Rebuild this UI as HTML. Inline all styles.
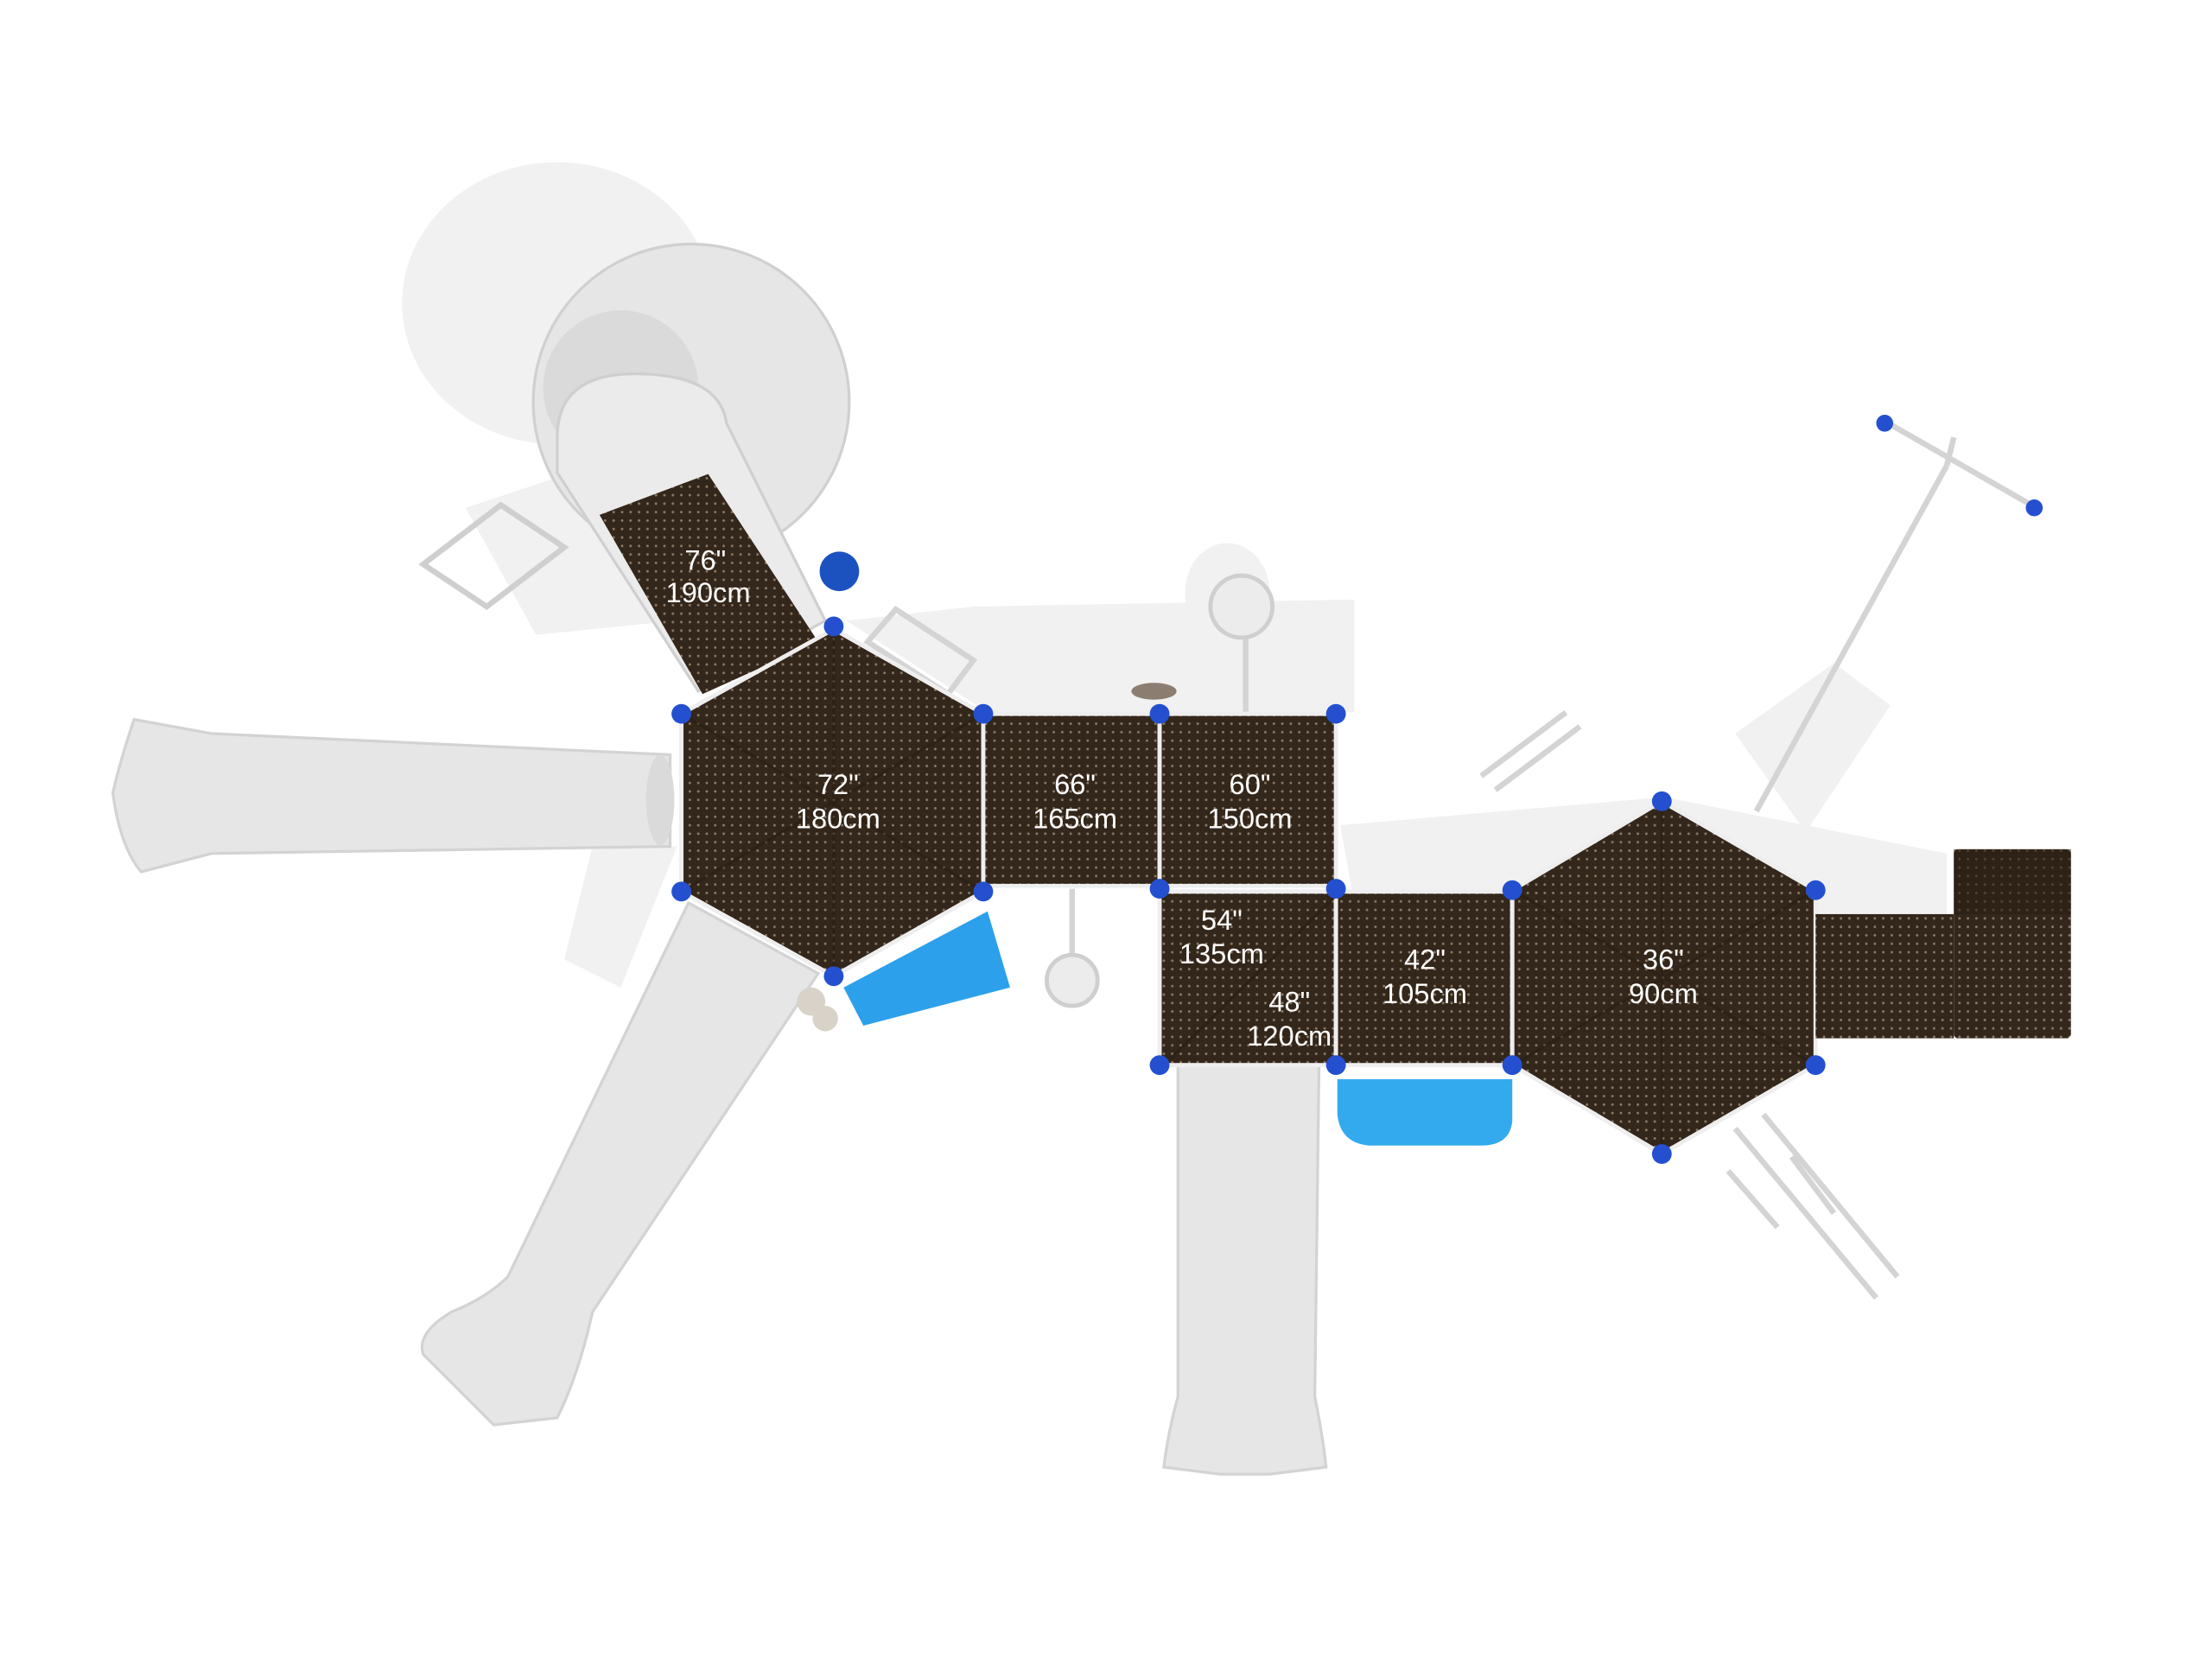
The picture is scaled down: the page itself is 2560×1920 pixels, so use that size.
<!DOCTYPE html>
<html><head><meta charset="utf-8"><style>
html,body{margin:0;padding:0;background:#fff;}
svg{display:block;}
text{font-family:"Liberation Sans",sans-serif;fill:#fff;font-size:20px;text-anchor:middle;}
</style></head><body>
<svg width="2560" height="1920" viewBox="0 0 1568 1176" xmlns="http://www.w3.org/2000/svg">
<defs>
<pattern id="dots" width="6" height="6" patternUnits="userSpaceOnUse">
<rect width="6" height="6" fill="#33261a"/>
<circle cx="3" cy="3" r="0.9" fill="#8a7a66"/>
</pattern>
</defs>
<rect width="1568" height="1176" fill="#fff"/>
<!-- shadows -->
<g fill="#f1f1f1">
<ellipse cx="395" cy="215" rx="110" ry="100"/>
<polygon points="330,360 420,330 480,440 380,450"/>
<polygon points="600,440 690,430 960,425 960,505 700,505"/>
<polygon points="950,585 1180,565 1380,605 1380,650 1290,650 960,640"/>
<polygon points="420,600 480,600 440,700 400,680"/>
<ellipse cx="870" cy="420" rx="30" ry="35"/>
<polygon points="1230,520 1300,470 1340,500 1280,590"/>
</g>
<!-- spiral slide -->
<circle cx="490" cy="285" r="112" fill="#e6e6e6" stroke="#d0d0d0" stroke-width="2"/>
<circle cx="440" cy="275" r="55" fill="#dadada"/>
<path d="M395,335 L395,310 Q395,265 450,265 Q510,265 515,300 L585,440 L495,490 Z" fill="#ebebeb" stroke="#cfcfcf" stroke-width="2"/>
<polygon points="425,365 502,336 580,455 498,492" fill="url(#dots)"/>
<polygon points="300,400 355,358 400,388 345,430" fill="none" stroke="#cfcfcf" stroke-width="4"/>
<!-- left horizontal slide -->
<path d="M95,510 Q85,540 80,562 Q85,600 100,618 L150,605 L475,600 L475,535 L150,520 Z" fill="#e6e6e6" stroke="#d3d3d3" stroke-width="2"/>
<ellipse cx="468" cy="567" rx="10" ry="32" fill="#dadada"/>
<!-- diagonal slide -->
<path d="M488,640 L580,690 L420,930 Q410,975 395,1005 L350,1010 L300,960 Q295,945 320,930 Q345,920 360,905 Z" fill="#e6e6e6" stroke="#d3d3d3" stroke-width="2"/>
<!-- vertical slide -->
<path d="M835,755 L935,755 L932,990 Q938,1020 940,1040 L900,1045 L865,1045 L825,1040 Q828,1015 835,990 Z" fill="#e6e6e6" stroke="#d3d3d3" stroke-width="2"/>
<!-- white frames -->
<g fill="none" stroke="#d4d4d4" stroke-width="4">
<polygon points="615,455 635,432 690,468 672,492"/>
<line x1="883" y1="430" x2="883" y2="505"/>
<line x1="760" y1="630" x2="760" y2="690"/>
<line x1="1245" y1="575" x2="1380" y2="330"/>
<line x1="1335" y1="298" x2="1440" y2="358"/>
<line x1="1380" y1="330" x2="1385" y2="310"/>
<line x1="1050" y1="550" x2="1110" y2="505"/>
<line x1="1060" y1="560" x2="1120" y2="515"/>
<path d="M1230,800 L1330,920 M1250,790 L1345,905 M1225,830 L1260,870 M1270,820 L1300,860"/>
</g>
<circle cx="880" cy="430" r="22" fill="#ececec" stroke="#cfcfcf" stroke-width="3"/>
<circle cx="760" cy="695" r="18" fill="#ececec" stroke="#cfcfcf" stroke-width="3"/>
<circle cx="575" cy="710" r="10" fill="#d8d2c8"/>
<circle cx="585" cy="722" r="9" fill="#d8d2c8"/>
<ellipse cx="818" cy="490" rx="16" ry="6" fill="#8b7e70"/>
<!-- decks -->
<g stroke="#eeeeee" stroke-width="3">
<polygon points="591,446 697,506 697,632 591,692 483,632 483,506" fill="url(#dots)"/>
<rect x="697" y="506" width="125" height="122" fill="url(#dots)"/>
<rect x="822" y="506" width="125" height="122" fill="url(#dots)"/>
<rect x="822" y="632" width="125" height="123" fill="url(#dots)"/>
<rect x="947" y="632" width="125" height="123" fill="url(#dots)"/>
<polygon points="1178,568 1287,631 1287,755 1178,818 1072,755 1072,631" fill="url(#dots)"/>
</g>
<g stroke="#2a1d12" stroke-width="2" opacity="0.6">
<line x1="591" y1="446" x2="591" y2="692"/><line x1="483" y1="506" x2="697" y2="632"/><line x1="697" y1="506" x2="483" y2="632"/>
<line x1="1178" y1="568" x2="1178" y2="818"/><line x1="1072" y1="631" x2="1287" y2="755"/><line x1="1287" y1="631" x2="1072" y2="755"/>
<line x1="830" y1="750" x2="947" y2="635"/>
</g>
<rect x="1287" y="648" width="98" height="88" fill="url(#dots)"/>
<rect x="1385" y="602" width="83" height="134" rx="3" fill="url(#dots)"/>
<rect x="1385" y="602" width="83" height="46" fill="#2c2015" opacity="0.6"/>
<!-- blue items -->
<polygon points="598,700 700,646 716,700 612,727" fill="#2ca0ea"/>
<path d="M948,765 L1072,765 L1072,795 Q1070,812 1050,812 L970,812 Q950,810 948,790 Z" fill="#33aaee"/>
<circle cx="595" cy="405" r="14" fill="#1c52c0"/>
<g fill="#2450d0">
<circle cx="591" cy="444" r="7"/><circle cx="697" cy="506" r="7"/><circle cx="697" cy="632" r="7"/><circle cx="591" cy="692" r="7"/><circle cx="483" cy="632" r="7"/><circle cx="483" cy="506" r="7"/>
<circle cx="822" cy="506" r="7"/><circle cx="947" cy="506" r="7"/><circle cx="822" cy="630" r="7"/><circle cx="947" cy="630" r="7"/>
<circle cx="822" cy="755" r="7"/><circle cx="947" cy="755" r="7"/><circle cx="1072" cy="631" r="7"/><circle cx="1072" cy="755" r="7"/>
<circle cx="1178" cy="568" r="7"/><circle cx="1287" cy="631" r="7"/><circle cx="1287" cy="755" r="7"/><circle cx="1178" cy="818" r="7"/>
<circle cx="1336" cy="300" r="6"/><circle cx="1442" cy="360" r="6"/>
</g>
<!-- labels -->
<text x="500" y="404">76"</text><text x="502" y="427">190cm</text>
<text x="594" y="563">72"</text><text x="594" y="587">180cm</text>
<text x="762" y="563">66"</text><text x="762" y="587">165cm</text>
<text x="886" y="563">60"</text><text x="886" y="587">150cm</text>
<text x="866" y="659">54"</text><text x="866" y="683">135cm</text>
<text x="914" y="717">48"</text><text x="914" y="741">120cm</text>
<text x="1010" y="687">42"</text><text x="1010" y="711">105cm</text>
<text x="1179" y="687">36"</text><text x="1179" y="711">90cm</text>
</svg>
</body></html>
